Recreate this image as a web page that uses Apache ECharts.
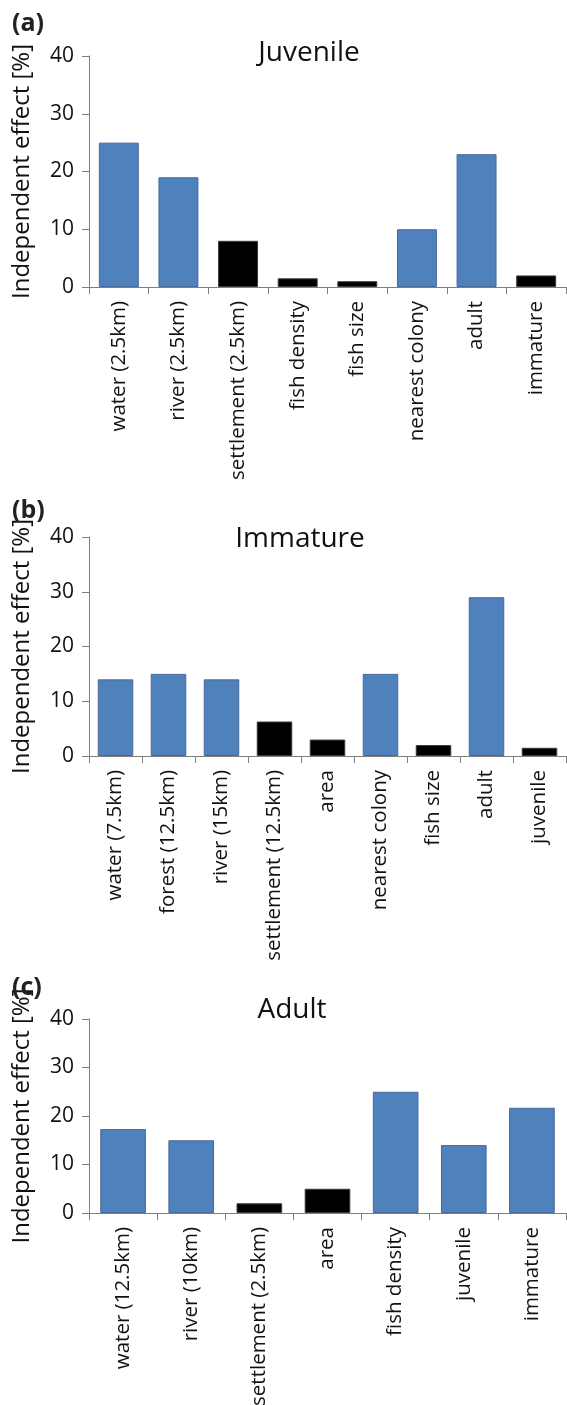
<!DOCTYPE html>
<html>
<head>
<meta charset="utf-8">
<script src="https://cdn.jsdelivr.net/npm/echarts@6/dist/echarts.min.js"></script>
<style>
  html, body { margin: 0; padding: 0; background: #fff; }
  #main { width: 567px; height: 1405px; }
</style>
</head>
<body>
<div id="main"></div>
<script>
// (a) Juvenile
var juvCats = ['water (2.5km)', 'river (2.5km)', 'settlement (2.5km)', 'fish density', 'fish size', 'nearest colony', 'adult', 'immature'];
var juvVals = [25, 19, 8, 1.5, 1, 10, 23, 2];
var juvDir  = ['+', '+', '-', '-', '-', '+', '+', '-'];

// (b) Immature
var immCats = ['water (7.5km)', 'forest (12.5km)', 'river (15km)', 'settlement (12.5km)', 'area', 'nearest colony', 'fish size', 'adult', 'juvenile'];
var immVals = [14, 15, 14, 6.3, 3, 15, 2, 29, 1.5];
var immDir  = ['+', '+', '+', '-', '-', '+', '-', '+', '-'];

// (c) Adult
var aduCats = ['water (12.5km)', 'river (10km)', 'settlement (2.5km)', 'area', 'fish density', 'juvenile', 'immature'];
var aduVals = [17.3, 15, 2, 5, 25, 14, 21.7];
var aduDir  = ['+', '+', '-', '-', '+', '+', '+'];

var yTicks = [0, 10, 20, 30, 40];

var FONT = '"Open Sans", sans-serif';
var AXIS_GRAY = '#7f7f7f';

// panel layout: top = y of 40, height = 40 -> 0
var panels = [
  { cats: juvCats, vals: juvVals, dir: juvDir, top: 56,   height: 231, title: 'Juvenile', tag: '(a)', titleX: 309, titleY: 53,   tagY: 24 },
  { cats: immCats, vals: immVals, dir: immDir, top: 537,  height: 219, title: 'Immature', tag: '(b)', titleX: 300, titleY: 539,  tagY: 511 },
  { cats: aduCats, vals: aduVals, dir: aduDir, top: 1019, height: 194, title: 'Adult',    tag: '(c)', titleX: 292, titleY: 1010, tagY: 988 }
];

function barItems(vals, dir) {
  return vals.map(function (v, i) {
    var neg = dir[i] === '-';
    return {
      value: v,
      itemStyle: {
        color: neg ? '#000000' : '#4f81bd',
        borderColor: neg ? '#3a3a3a' : '#47699a',
        borderWidth: 1
      }
    };
  });
}

var grids = [], xAxes = [], yAxes = [], series = [], graphics = [];

panels.forEach(function (p, k) {
  grids.push({ left: 89, width: 477, top: p.top, height: p.height, containLabel: false, outerBoundsMode: 'none' });
  xAxes.push({
    type: 'category',
    gridIndex: k,
    data: p.cats,
    boundaryGap: true,
    axisLine: { show: true, lineStyle: { color: AXIS_GRAY, width: 1 } },
    axisTick: { show: true, length: 7, alignWithLabel: false, lineStyle: { color: AXIS_GRAY } },
    axisLabel: { rotate: 90, interval: 0, margin: 14, fontSize: 20.5, color: '#111', fontFamily: FONT },
    splitLine: { show: false }
  });
  yAxes.push({
    type: 'value',
    gridIndex: k,
    min: yTicks[0],
    max: yTicks[yTicks.length - 1],
    interval: 10,
    name: 'Independent effect [%]',
    nameLocation: 'middle',
    nameGap: 55,
    nameTextStyle: { fontSize: 24, color: '#111', fontFamily: FONT },
    axisLine: { show: true, lineStyle: { color: AXIS_GRAY, width: 1 } },
    axisTick: { show: true, length: 7, lineStyle: { color: AXIS_GRAY } },
    axisLabel: { fontSize: 21, margin: 15, color: '#111', fontFamily: FONT },
    splitLine: { show: false }
  });
  series.push({
    type: 'bar',
    xAxisIndex: k,
    yAxisIndex: k,
    barCategoryGap: '33%',
    data: barItems(p.vals, p.dir),
    animation: false
  });
  graphics.push({
    type: 'text',
    x: p.titleX, y: p.titleY,
    style: { text: p.title, font: '28px ' + FONT, fill: '#111', align: 'center', verticalAlign: 'middle', textAlign: 'center', textVerticalAlign: 'middle' }
  });
  graphics.push({
    type: 'text',
    x: 12, y: p.tagY,
    z: 10,
    style: { text: p.tag, font: 'bold 25px ' + FONT, fill: '#222', align: 'left', verticalAlign: 'middle', textAlign: 'left', textVerticalAlign: 'middle' }
  });
});

var myChart = echarts.init(document.getElementById('main'));
var option = {
  animation: false,
  backgroundColor: '#fff',
  textStyle: { fontFamily: FONT },
  grid: grids,
  xAxis: xAxes,
  yAxis: yAxes,
  series: series,
  graphic: graphics
};
myChart.setOption(option);
</script>
</body>
</html>
